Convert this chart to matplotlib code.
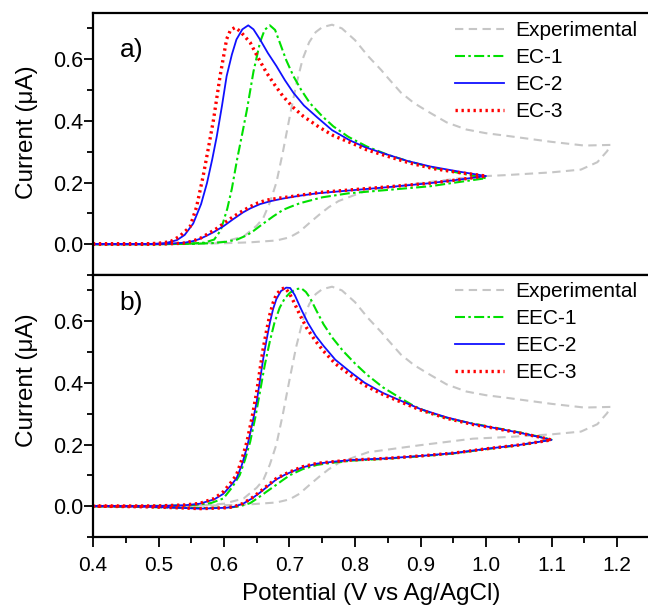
import matplotlib
matplotlib.use("Agg")
import matplotlib.pyplot as plt
from matplotlib.ticker import MultipleLocator

plt.rcParams['font.family'] = ['Liberation Sans', 'DejaVu Sans']

# ---------------- data ----------------
# Experimental CV (same in both panels)
exp_v = [0.40, 0.50, 0.56, 0.60, 0.63, 0.65, 0.66, 0.67, 0.68, 0.69, 0.70, 0.71, 0.72, 0.73, 0.74,
         0.75, 0.765, 0.78, 0.80, 0.82, 0.84, 0.85, 0.87, 0.89, 0.91, 0.94, 0.97, 1.00, 1.03, 1.10,
         1.15, 1.19,
         1.185, 1.17, 1.145, 1.10, 1.03, 0.98, 0.90, 0.82, 0.80, 0.775, 0.76, 0.745, 0.73, 0.715,
         0.70, 0.68, 0.64, 0.60, 0.50, 0.40]
exp_i = [0.000, 0.000, 0.002, 0.008, 0.025, 0.060, 0.085, 0.135, 0.200, 0.300, 0.410, 0.515, 0.600,
         0.655, 0.688, 0.704, 0.712, 0.700, 0.662, 0.610, 0.565, 0.540, 0.492, 0.458, 0.432, 0.395,
         0.372, 0.360, 0.352, 0.332, 0.320, 0.322,
         0.302, 0.266, 0.242, 0.233, 0.224, 0.219, 0.198, 0.175, 0.160, 0.140, 0.120, 0.095, 0.068,
         0.040, 0.022, 0.012, 0.006, 0.003, 0.000, 0.000]

# Panel a) EC models
ec1_v = [0.40, 0.50, 0.55, 0.57, 0.585, 0.595, 0.605, 0.612, 0.62, 0.628, 0.635, 0.645, 0.655, 0.662,
         0.670, 0.678, 0.685, 0.695, 0.706, 0.718, 0.731, 0.75, 0.767, 0.79, 0.818, 0.85, 0.88, 0.915,
         0.95, 0.98, 1.00,
         0.95, 0.915, 0.85, 0.79, 0.75, 0.716, 0.70, 0.69, 0.675, 0.66, 0.645, 0.635, 0.62, 0.604,
         0.58, 0.55, 0.50, 0.40]
ec1_i = [0.000, 0.000, 0.002, 0.005, 0.015, 0.045, 0.115, 0.180, 0.275, 0.360, 0.436, 0.560, 0.655,
         0.695, 0.710, 0.695, 0.655, 0.597, 0.545, 0.500, 0.458, 0.415, 0.382, 0.348, 0.317, 0.290,
         0.270, 0.250, 0.235, 0.222, 0.214,
         0.199, 0.188, 0.176, 0.165, 0.152, 0.133, 0.120, 0.111, 0.090, 0.067, 0.043, 0.029, 0.015,
         0.008, 0.003, 0.001, 0.000, 0.000]

ec2_v = [0.40, 0.48, 0.51, 0.528, 0.54, 0.553, 0.565, 0.574, 0.582, 0.589, 0.597, 0.604, 0.612, 0.619,
         0.628, 0.637, 0.645, 0.655, 0.667, 0.680, 0.693, 0.706, 0.722, 0.742, 0.765, 0.792, 0.815,
         0.843, 0.88, 0.915, 0.96, 1.00,
         0.95, 0.915, 0.85, 0.79, 0.742, 0.715, 0.69, 0.672, 0.655, 0.64, 0.629, 0.614, 0.599, 0.585,
         0.574, 0.563, 0.553, 0.54, 0.52, 0.48, 0.40]
ec2_i = [0.000, 0.000, 0.003, 0.013, 0.030, 0.067, 0.130, 0.198, 0.275, 0.350, 0.450, 0.545, 0.615,
         0.664, 0.697, 0.710, 0.697, 0.664, 0.620, 0.578, 0.532, 0.491, 0.450, 0.412, 0.370, 0.337,
         0.315, 0.295, 0.270, 0.252, 0.235, 0.221,
         0.207, 0.198, 0.185, 0.174, 0.165, 0.157, 0.148, 0.140, 0.130, 0.116, 0.103, 0.081, 0.058,
         0.040, 0.028, 0.017, 0.010, 0.005, 0.002, 0.000, 0.000]

ec3_v = [0.40, 0.47, 0.50, 0.518, 0.532, 0.548, 0.558, 0.568, 0.576, 0.584, 0.594, 0.604, 0.610,
         0.617, 0.625, 0.640, 0.652, 0.665, 0.678, 0.690, 0.705, 0.721, 0.745, 0.767, 0.797, 0.818,
         0.85, 0.884, 0.92, 0.96, 1.00,
         0.95, 0.915, 0.85, 0.792, 0.747, 0.72, 0.701, 0.683, 0.665, 0.652, 0.640, 0.627, 0.614, 0.60,
         0.589, 0.575, 0.563, 0.55, 0.537, 0.50, 0.40]
ec3_i = [0.000, 0.000, 0.003, 0.008, 0.025, 0.056, 0.120, 0.219, 0.310, 0.404, 0.545, 0.665, 0.695,
         0.703, 0.690, 0.654, 0.605, 0.556, 0.515, 0.480, 0.445, 0.415, 0.380, 0.352, 0.326, 0.306,
         0.285, 0.263, 0.245, 0.232, 0.221,
         0.207, 0.198, 0.186, 0.176, 0.168, 0.160, 0.154, 0.149, 0.143, 0.134, 0.122, 0.106, 0.089,
         0.068, 0.051, 0.033, 0.018, 0.009, 0.003, 0.000, 0.000]

# Panel b) EEC models
eec1_v = [0.40, 0.50, 0.55, 0.58, 0.599, 0.612, 0.624, 0.632, 0.640, 0.648, 0.655, 0.662, 0.670, 0.677,
          0.685, 0.693, 0.701, 0.710, 0.718, 0.725, 0.731, 0.741, 0.752, 0.766, 0.782, 0.80, 0.818,
          0.843, 0.869, 0.89, 0.915, 0.95, 0.98, 1.00, 1.052, 1.08, 1.10,
          1.052, 1.00, 0.95, 0.90, 0.848, 0.797, 0.77, 0.742, 0.72, 0.701, 0.69, 0.677, 0.665, 0.652,
          0.640, 0.625, 0.61, 0.58, 0.55, 0.51, 0.46, 0.40]
eec1_i = [0.000, 0.001, 0.003, 0.010, 0.025, 0.060, 0.101, 0.150, 0.209, 0.290, 0.372, 0.455, 0.535,
          0.595, 0.644, 0.675, 0.693, 0.704, 0.707, 0.695, 0.677, 0.635, 0.590, 0.545, 0.503, 0.463,
          0.427, 0.385, 0.351, 0.325, 0.302, 0.281, 0.268, 0.260, 0.239, 0.226, 0.216,
          0.198, 0.185, 0.171, 0.162, 0.154, 0.148, 0.142, 0.134, 0.120, 0.101, 0.085, 0.065, 0.047,
          0.027, 0.010, 0.000, -0.004, -0.006, -0.006, -0.004, -0.002, 0.000]

eec2_v = [0.40, 0.50, 0.54, 0.563, 0.585, 0.599, 0.610, 0.619, 0.627, 0.635, 0.643, 0.650, 0.655, 0.660,
          0.665, 0.670, 0.675, 0.680, 0.687, 0.695, 0.701, 0.708, 0.718, 0.728, 0.740, 0.752, 0.770,
          0.792, 0.815, 0.843, 0.87, 0.90, 0.94, 0.98, 1.00, 1.052, 1.08, 1.10,
          1.052, 1.00, 0.95, 0.90, 0.848, 0.797, 0.77, 0.742, 0.72, 0.706, 0.693, 0.680, 0.667, 0.655,
          0.642, 0.629, 0.615, 0.604, 0.58, 0.563, 0.54, 0.512, 0.48, 0.44, 0.40]
eec2_i = [0.000, 0.001, 0.003, 0.008, 0.022, 0.040, 0.066, 0.090, 0.132, 0.190, 0.265, 0.340, 0.410,
          0.480, 0.540, 0.595, 0.640, 0.672, 0.698, 0.709, 0.708, 0.685, 0.638, 0.595, 0.553, 0.520,
          0.475, 0.437, 0.400, 0.367, 0.342, 0.315, 0.288, 0.267, 0.259, 0.238, 0.225, 0.215,
          0.199, 0.186, 0.172, 0.163, 0.155, 0.150, 0.145, 0.138, 0.126, 0.114, 0.102, 0.087, 0.065,
          0.044, 0.024, 0.008, -0.002, -0.005, -0.007, -0.008, -0.006, -0.004, -0.002, -0.001, 0.000]

eec3_v = [0.40, 0.50, 0.54, 0.563, 0.585, 0.599, 0.610, 0.619, 0.627, 0.635, 0.643, 0.650, 0.655, 0.660,
          0.665, 0.670, 0.675, 0.680, 0.687, 0.693, 0.700, 0.706, 0.716, 0.726, 0.740, 0.752, 0.770,
          0.792, 0.815, 0.843, 0.87, 0.90, 0.94, 0.98, 1.00, 1.052, 1.08, 1.10,
          1.052, 1.00, 0.95, 0.90, 0.848, 0.797, 0.77, 0.742, 0.72, 0.706, 0.693, 0.680, 0.667, 0.655,
          0.642, 0.629, 0.615, 0.604, 0.58, 0.563, 0.54, 0.512, 0.48, 0.44, 0.40]
eec3_i = [0.000, 0.001, 0.004, 0.009, 0.025, 0.047, 0.075, 0.101, 0.150, 0.209, 0.290, 0.372, 0.445,
          0.514, 0.570, 0.622, 0.660, 0.687, 0.703, 0.709, 0.690, 0.665, 0.620, 0.579, 0.535, 0.503,
          0.462, 0.427, 0.392, 0.362, 0.338, 0.312, 0.285, 0.265, 0.258, 0.237, 0.225, 0.215,
          0.199, 0.186, 0.172, 0.163, 0.155, 0.150, 0.145, 0.139, 0.128, 0.116, 0.104, 0.090, 0.068,
          0.047, 0.026, 0.009, -0.002, -0.005, -0.007, -0.008, -0.006, -0.004, -0.002, -0.001, 0.000]

labels_a = ['Experimental', 'EC-1', 'EC-2', 'EC-3']
labels_b = ['Experimental', 'EEC-1', 'EEC-2', 'EEC-3']
xticks = [0.4, 0.5, 0.6, 0.7, 0.8, 0.9, 1.0, 1.1, 1.2]
yticks = [0.0, 0.2, 0.4, 0.6]

# ---------------- styles ----------------
GREY = '#c6c6c6'
GREEN = '#00e000'
BLUE = '#1010ff'
RED = '#ff0000'
sty_exp = dict(color=GREY, lw=1.5, ls=(0, (4, 2.6)))
sty_1 = dict(color=GREEN, lw=1.5, ls=(0, (4.8, 1.6, 1.2, 1.6)))
sty_2 = dict(color=BLUE, lw=1.3, ls='-')
sty_3 = dict(color=RED, lw=2.4, ls=(0, (0.7, 1.1)))

W, H = 648, 605
fig = plt.figure(figsize=(W / 100, H / 100), dpi=100)
left = 93 / W
right = 649.75 / W
axA = fig.add_axes([left, (H - 275) / H, right - left, 262 / H])
axB = fig.add_axes([left, (H - 537) / H, right - left, 262 / H], sharex=axA)

panels = [
    (axA, [(exp_v, exp_i, sty_exp), (ec1_v, ec1_i, sty_1), (ec2_v, ec2_i, sty_2), (ec3_v, ec3_i, sty_3)],
     labels_a, 'a)', 0.858, (H - 21) / H, 0.545),
    (axB, [(exp_v, exp_i, sty_exp), (eec1_v, eec1_i, sty_1), (eec2_v, eec2_i, sty_2), (eec3_v, eec3_i, sty_3)],
     labels_b, 'b)', 0.893, (H - 282) / H, 0.60),
]

for ax, series, labs, tag, tag_y, leg_y, lab_y in panels:
    for (v, i, st), lab in zip(series, labs):
        ax.plot(v, i, label=lab, **st)
    ax.set_xlim(0.4, 1.25)
    ax.set_ylim(-0.1, 0.75)
    ax.set_yticks(yticks)
    ax.set_yticklabels([f'{t:.1f}' for t in yticks])
    ax.yaxis.set_minor_locator(MultipleLocator(0.1))
    ax.tick_params(axis='y', which='major', direction='out', length=6.2, width=1.3, labelsize=15.5, pad=0.5)
    ax.tick_params(axis='y', which='minor', direction='out', length=4.2, width=1.3)
    for s in ax.spines.values():
        s.set_linewidth(1.6)
    ax.set_ylabel('Current (μA)', fontsize=17.5)
    ax.yaxis.set_label_coords(-0.098, lab_y)
    ax.text(0.048, tag_y, tag, transform=ax.transAxes, fontsize=19, ha='left', va='center')
    ax.legend(loc='upper left', bbox_to_anchor=(455 / W, leg_y),
              bbox_transform=fig.transFigure, frameon=False, fontsize=15,
              handlelength=2.35, handletextpad=0.55, labelspacing=0.39, borderpad=0, borderaxespad=0)

axA.tick_params(axis='x', which='both', bottom=False, labelbottom=False)
axB.set_xticks(xticks)
axB.set_xticklabels([f'{t:.1f}' for t in xticks])
axB.xaxis.set_minor_locator(MultipleLocator(0.05))
axB.tick_params(axis='x', which='major', direction='out', length=7, width=1.3, labelsize=15, pad=6.5)
axB.tick_params(axis='x', which='minor', direction='out', length=4, width=1.3)
axB.set_xlabel('Potential (V vs Ag/AgCl)', fontsize=17.5, labelpad=6)

fig.savefig('out.png', dpi=100)
